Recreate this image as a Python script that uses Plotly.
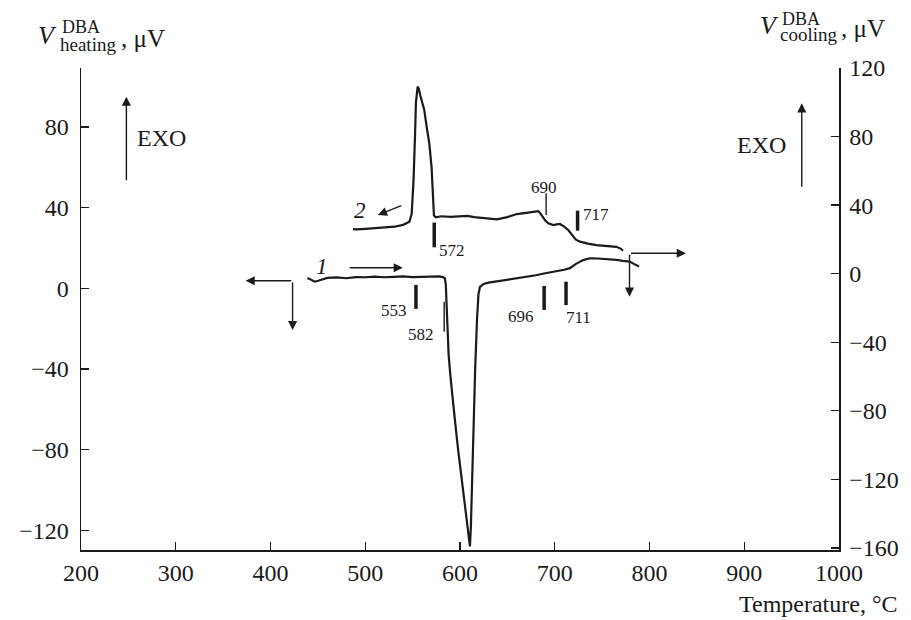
import plotly.graph_objects as go

# ---------------- data ----------------
# Curve 1: heating (left axis, µV)
heat_T = [439, 443, 447, 452, 460, 470, 480, 490, 500, 510, 520, 530, 540, 550, 560, 570,
          578, 582, 584, 585, 586, 587, 588, 590, 592, 595, 598, 601, 604, 606, 608, 609.5,
          610.5, 611.5, 612.5, 614, 616, 618, 619.5, 621, 625, 630, 640, 650, 660, 670, 680,
          690, 700, 705, 710, 716, 722, 730, 737, 745, 755, 765, 772, 779, 784, 789]
heat_V = [5.1, 4.0, 3.3, 4.0, 5.2, 5.4, 5.0, 5.6, 5.5, 5.8, 5.5, 5.7, 5.9, 5.6, 5.8, 6.0,
          5.9, 5.6, 5.0, 2.0, -8, -22, -33, -44, -54, -67, -80, -92, -103, -110, -118, -126,
          -128, -118, -100, -70, -40, -15, -3, 0.7, 2.2, 2.8, 3.5, 4.2, 5.0, 5.8, 6.5,
          7.5, 8.3, 8.8, 9.2, 10.0, 12.0, 14.0, 14.9, 14.8, 14.5, 14.1, 13.6, 13.3, 12.0, 10.8]

# Curve 2: cooling (right axis, µV)
cool_T = [487, 491, 500, 510, 520, 531, 540, 546.6, 549, 551, 552.5, 553.5, 555.3, 556.5,
          558.1, 560, 562.3, 565, 567.6, 570, 571.5, 572.5, 574.6, 580, 590, 600, 607.8, 615,
          625, 632, 639, 650, 660, 670, 679, 682.7, 685, 687.2, 690, 693.2, 698.5, 702, 705.5,
          710, 714.2, 717, 719.5, 722, 726.5, 735, 744, 755, 765, 770, 772]
cool_V = [26, 25.9, 26.2, 26.5, 27, 27.4, 28.5, 30.3, 35, 55, 80, 100, 109.1, 108,
          104, 100, 95.5, 85, 76, 62, 45, 34, 32.9, 33.5, 33.2, 33.4, 33.7, 33.0,
          32.5, 32.0, 31.7, 33, 34.8, 35.5, 36.2, 36.5, 35, 33.2, 31, 29.4, 28.4, 28.8, 29.0,
          27.5, 25.5, 23.5, 21.6, 20, 18.7, 17.5, 16.7, 16.2, 15.7, 14.5, 13.4]

x_ticks = [200, 300, 400, 500, 600, 700, 800, 900, 1000]
yl_ticks = [-120, -80, -40, 0, 40, 80]
yr_ticks = [-160, -120, -80, -40, 0, 40, 80, 120]

# event marks: label, temperature of mark
heat_events = ["553", "582", "696", "711"]
heat_event_T = [553.5, 583.3, 688.8, 711.9]
cool_events = ["572", "690", "717"]
cool_event_T = [572.8, 690.9, 724.1]

# ---------------- figure ----------------
FONT = "Liberation Serif"
INK = "#1a1a1a"
fig = go.Figure()

fig.add_trace(go.Scatter(x=heat_T, y=heat_V, mode="lines", yaxis="y",
                         line=dict(color=INK, width=2.2), showlegend=False, hoverinfo="skip"))
fig.add_trace(go.Scatter(x=cool_T, y=cool_V, mode="lines", yaxis="y2",
                         line=dict(color=INK, width=2.2), showlegend=False, hoverinfo="skip"))

# mark geometry (layout)
heat_mark_y = [(1.7, -10.2), (-6.6, -21.5), (1.2, -10.7), (3.3, -8.3)]
heat_mark_w = [3.5, 1.4, 3.5, 3.5]
heat_lab_pos = [(530.7, -11.1), (558.8, -23.1), (664.4, -14.0), (724.8, -14.4)]
cool_mark_y = [(29.8, 15.4), (46.9, 34.2), (36.8, 25.1)]
cool_mark_w = [3.5, 1.4, 3.5]
cool_lab_pos = [(591.2, 13.4), (689.0, 50.3), (744.0, 34.7)]

shapes = []
annots = []
for lab, t, (y0, y1), w, (lx, ly) in zip(heat_events, heat_event_T, heat_mark_y,
                                         heat_mark_w, heat_lab_pos):
    shapes.append(dict(type="line", xref="x", yref="y", x0=t, x1=t, y0=y0, y1=y1,
                       line=dict(color=INK, width=w)))
    annots.append(dict(x=lx, y=ly, xref="x", yref="y", text=lab, showarrow=False,
                       xanchor="center", yanchor="middle",
                       font=dict(family=FONT, size=17, color=INK)))
for lab, t, (y0, y1), w, (lx, ly) in zip(cool_events, cool_event_T, cool_mark_y,
                                         cool_mark_w, cool_lab_pos):
    shapes.append(dict(type="line", xref="x", yref="y2", x0=t, x1=t, y0=y0, y1=y1,
                       line=dict(color=INK, width=w)))
    annots.append(dict(x=lx, y=ly, xref="x", yref="y2", text=lab, showarrow=False,
                       xanchor="center", yanchor="middle",
                       font=dict(family=FONT, size=17, color=INK)))


def arrow(x, y, ax, ay, yref="y"):
    return dict(x=x, y=y, ax=ax, ay=ay, xref="x", yref=yref, axref="x", ayref=yref,
                text="", showarrow=True, arrowhead=2, arrowsize=1.3, arrowwidth=1.4,
                arrowcolor=INK)


# EXO arrows
annots.append(arrow(247.9, 95.1, 247.9, 52.9))
annots.append(dict(x=256.6, y=74.6, xref="x", yref="y", text="EXO", showarrow=False,
                   xanchor="left", yanchor="middle", font=dict(family=FONT, size=24, color=INK)))
annots.append(arrow(960.7, 99.4, 960.7, 49.8, "y2"))
annots.append(dict(x=946.6, y=75.1, xref="x", yref="y2", text="EXO", showarrow=False,
                   xanchor="right", yanchor="middle", font=dict(family=FONT, size=24, color=INK)))

# curve 1 labels / arrows
annots.append(dict(x=454, y=10.7, xref="x", yref="y", text="<i>1</i>", showarrow=False,
                   font=dict(family=FONT, size=23, color=INK)))
annots.append(arrow(539.6, 10.2, 482, 10.2))
annots.append(arrow(373.7, 3.8, 423.3, 3.8))
annots.append(arrow(423.3, -20.7, 423.3, 3.8))

# curve 2 labels / arrows
annots.append(dict(x=494.5, y=37, xref="x", yref="y2", text="<i>2</i>", showarrow=False,
                   font=dict(family=FONT, size=23, color=INK)))
annots.append(arrow(513.4, 34.2, 539.6, 40.1, "y2"))
annots.append(arrow(838.4, 11.9, 778.9, 11.9, "y2"))
annots.append(arrow(778.9, -13.4, 778.9, 11.9, "y2"))

# axis titles (pixel-placed via paper coords)
L, R, T, B = 81, 844, 68, 550


def px(xp):
    return (xp - L) / (R - L)


def py(yp):
    return (B - yp) / (B - T)


def ptext(x, y, text, size, anchor="center"):
    annots.append(dict(x=px(x), y=py(y), xref="paper", yref="paper", text=text,
                       showarrow=False, xanchor=anchor, yanchor="middle", borderpad=0,
                       font=dict(family=FONT, size=size, color=INK)))


ptext(47, 35, "<i>V</i>", 26)
ptext(61, 27, "DBA", 18, "left")
ptext(59, 45, "heating", 19, "left")
ptext(120, 38, ", μV", 25, "left")

ptext(774, 25, "<i>V</i>", 26)
ptext(786, 19, "DBA", 18, "left")
ptext(784, 34, "cooling", 19, "left")
ptext(845, 28, ", μV", 25, "left")

ptext(904, 604, "Temperature, °C", 24, "right")

axis_common = dict(showgrid=False, zeroline=False, showline=True, linecolor=INK,
                   linewidth=1.5, ticks="inside", ticklen=8, tickwidth=1.3, tickcolor=INK,
                   tickfont=dict(family=FONT, size=24, color=INK))

fig.update_layout(
    width=911, height=620, autosize=False,
    margin=dict(l=L, r=911 - R, t=T, b=620 - B),
    paper_bgcolor="white", plot_bgcolor="white",
    xaxis=dict(range=[200, 1000], tickvals=x_ticks, ticklabelstandoff=1, **axis_common),
    yaxis=dict(range=[-129.8, 109.3], tickvals=yl_ticks, ticklabelstandoff=6, **axis_common),
    yaxis2=dict(range=[-161.2, 120], tickvals=yr_ticks, overlaying="y", side="right",
                ticklabelstandoff=4, **axis_common),
    shapes=shapes, annotations=annots, showlegend=False,
)

fig.write_html("out.html", config={"displayModeBar": False, "staticPlot": True},
               post_script="document.body.style.margin='0';"
                           "document.body.style.overflow='hidden';")
